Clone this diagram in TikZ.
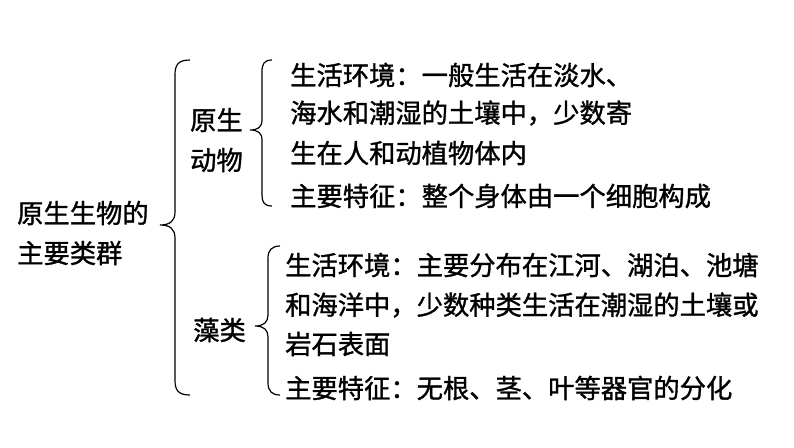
\documentclass[tikz,border=0pt]{standalone}
\usepackage{fontspec}
\newfontfamily\cjk[FakeBold=1.2]{Noto Sans CJK SC}
\begin{document}
\begin{tikzpicture}[x=1pt,y=-1pt,
  txt/.style={anchor=west,inner sep=0pt,font=\cjk\fontsize{26.3}{30}\selectfont},
  br/.style={line width=1.2pt,black}]
\useasboundingbox (0,0) rectangle (794,447);
\node[txt] (r1) at (17,213) {原生生物的};
\node[txt] (r2) at (17,253) {主要类群};
\node[txt] (p1) at (190,120) {原生};
\node[txt] (p2) at (190,160) {动物};
\node[txt] (a1) at (290,75) {生活环境：一般生活在淡水、};
\node[txt] (a2) at (290,113) {海水和潮湿的土壤中，少数寄};
\node[txt] (a3) at (290,153) {生在人和动植物体内};
\node[txt] (a4) at (290,196) {主要特征：整个身体由一个细胞构成};
\node[txt] (z1) at (193,330) {藻类};
\node[txt] (b1) at (285,265) {生活环境：主要分布在江河、湖泊、池塘};
\node[txt] (b2) at (285,305) {和海洋中，少数种类生活在潮湿的土壤或};
\node[txt] (b3) at (285,344) {岩石表面};
\node[txt] (b4) at (285,388) {主要特征：无根、茎、叶等器官的分化};
% brace 1
\draw[br] (190,60) .. controls (178,60) and (175,65) .. (175,75) -- (175,212) .. controls (175,221) and (170,225) .. (160,225) .. controls (170,225) and (175,229) .. (175,238) -- (175,380) .. controls (175,390) and (178,395) .. (190,395);
% brace 2
\draw[br] (272,60) .. controls (264,60) and (262,64) .. (262,72) -- (262,120) .. controls (262,127) and (258,130) .. (250,130) .. controls (258,130) and (262,133) .. (262,140) -- (262,195) .. controls (262,202) and (264,206) .. (272,206);
% brace 3
\draw[br] (280,246) .. controls (272,246) and (268,250) .. (268,258) -- (268,315) .. controls (268,322) and (264,326) .. (255,326) .. controls (264,326) and (268,330) .. (268,337) -- (268,383) .. controls (268,391) and (272,395) .. (280,395);
\end{tikzpicture}
\end{document}
